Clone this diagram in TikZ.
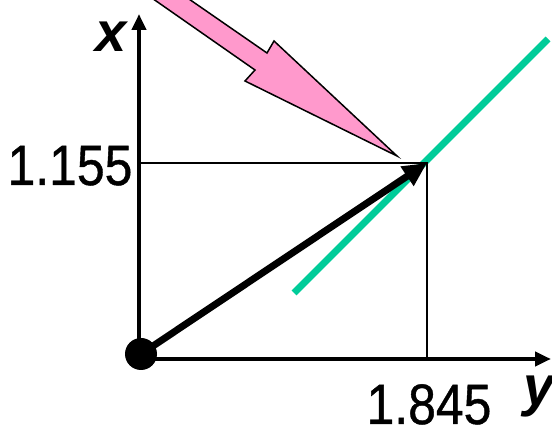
\documentclass[tikz,border=0pt]{standalone}
\usepackage{fontspec}
\setmainfont{Liberation Sans}
\newfontfamily\numfont[FakeBold=0.8]{Liberation Sans}
\usetikzlibrary{arrows.meta}
\definecolor{pinkfill}{RGB}{255,153,204}
\definecolor{tealline}{RGB}{0,204,153}
\tikzset{
  axis/.style={line width=4pt, -{Triangle[length=16pt,width=14pt]}},
  thin/.style={line width=2pt},
  vec/.style={line width=7pt, -{Triangle[length=24pt,width=22pt]}},
  numlbl/.style={inner sep=0pt, anchor=base, font=\numfont\fontsize{57}{60}\selectfont},
  varlbl/.style={inner sep=0pt, font=\fontsize{56}{60}\selectfont\bfseries\itshape},
}
\begin{document}
\begin{tikzpicture}[x=1pt,y=-1pt]
\useasboundingbox (0,0) rectangle (552,427);
\clip (0,0) rectangle (552,427);
% named points
\coordinate (O) at (139,359);
\coordinate (XT) at (139,14);
\coordinate (YT) at (551,359);
\coordinate (P) at (427,163);
\coordinate (PX) at (139,163);
\coordinate (PY) at (427,359);
\coordinate (G1) at (294,293);
\coordinate (G2) at (548,39);
% pink arrow
\draw[fill=pinkfill, line width=1.5pt, line join=miter]
  (73,-57) -- (255,70) -- (245,81) -- (397,156) -- (274,41) -- (267,53) -- (108,-57) -- cycle;
% green line
\draw[tealline, line width=7pt] (G1) -- (G2);
% guide lines
\draw[thin] (PX) -- (P) -- (PY);
% axes
\draw[axis] (O) -- (XT);
\draw[axis] (O) -- (YT);
% origin dot
\node[circle, fill=black, minimum size=32pt, inner sep=0pt] (dot) at (141,354) {};
% vector
\draw[vec] (dot.center) -- (P);
% labels
\node[varlbl] (xl) at (111,37) {x};
\node[varlbl, anchor=base] (yl) at (539,406) {y};
\node[numlbl] (n1) at (70,185) {\scalebox{0.875}[1]{1.155}};
\node[numlbl] (n2) at (429,424) {\scalebox{0.875}[1]{1.845}};
\end{tikzpicture}
\end{document}
